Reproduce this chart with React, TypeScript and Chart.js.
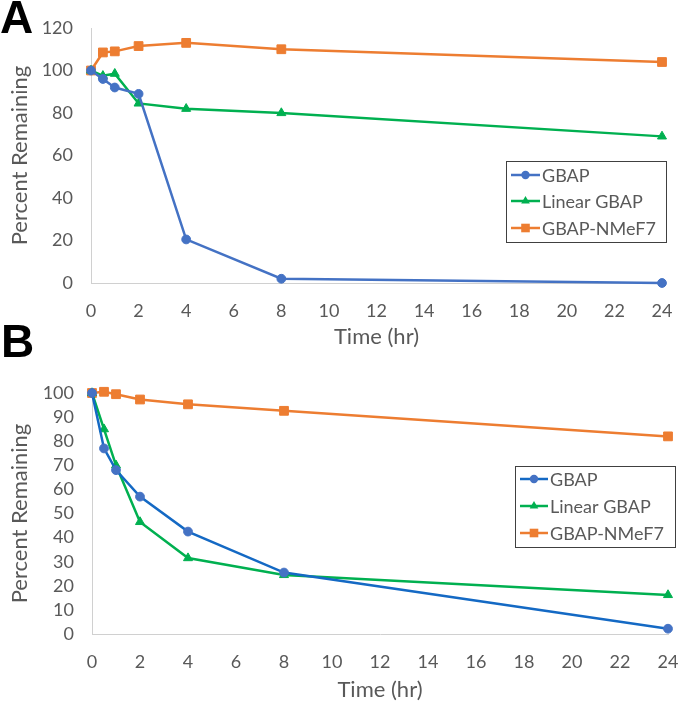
import React, { useEffect, useRef } from "react";
import { Chart, registerables } from "chart.js";

Chart.register(...registerables);

// ---------------- DATA ----------------
const timeHours = [0, 0.5, 1, 2, 4, 8, 24];
const seriesNames = ["GBAP", "Linear GBAP", "GBAP-NMeF7"];

const gbapA = [100, 96, 92, 89, 20.5, 2, 0];
const linearA = [100, 97.5, 98.5, 84.5, 82, 80, 69];
const nmefA = [100, 108.5, 109, 111.5, 113, 110, 104];

const gbapB = [100, 77, 68, 57, 42.5, 25.5, 2.2];
const linearB = [100, 85, 70, 46.5, 31.5, 24.5, 16.2];
const nmefB = [100, 100.5, 99.5, 97.3, 95.3, 92.6, 82];

const xTitle = "Time (hr)";
const yTitle = "Percent Remaining";

// ---------------- STYLE ----------------
const FONT = "Lato, 'Open Sans', sans-serif";
const TEXT = "#595959";
const AXIS = "#d0d0d0";
const BLUE = "#4472C4";
const BLUE_B = "#1469C4";
const GREEN = "#00B050";
const ORANGE = "#ED7D31";

type LegendOpts = {
  x: number; y: number; w: number; h: number;
  rows: number[]; lineX0: number; lineLen: number; textX: number;
  items: { label: string; color: string; marker: string; lineColor: string }[];
};

function drawMarker(ctx: CanvasRenderingContext2D, kind: string, x: number, y: number, color: string) {
  ctx.save();
  ctx.fillStyle = color;
  ctx.beginPath();
  if (kind === "circle") {
    ctx.arc(x, y, 4.2, 0, Math.PI * 2);
  } else if (kind === "rect") {
    ctx.rect(x - 4.3, y - 4.3, 8.6, 8.6);
  } else {
    const r = 5;
    ctx.moveTo(x, y - r);
    ctx.lineTo(x + r * 0.866, y + r * 0.5);
    ctx.lineTo(x - r * 0.866, y + r * 0.5);
    ctx.closePath();
  }
  ctx.fill();
  ctx.restore();
}

const boxLegend = {
  id: "boxLegend",
  afterDraw(chart: any, _args: any, opts: LegendOpts) {
    if (!opts || !opts.items) return;
    const ctx: CanvasRenderingContext2D = chart.ctx;
    ctx.save();
    ctx.fillStyle = "#ffffff";
    ctx.fillRect(opts.x, opts.y, opts.w, opts.h);
    ctx.strokeStyle = "#404040";
    ctx.lineWidth = 1;
    ctx.strokeRect(opts.x + 0.5, opts.y + 0.5, opts.w, opts.h);
    ctx.font = `18px ${FONT}`;
    ctx.textBaseline = "middle";
    ctx.textAlign = "left";
    opts.items.forEach((it, i) => {
      const cy = opts.y + opts.rows[i];
      const x0 = opts.x + opts.lineX0;
      ctx.strokeStyle = it.lineColor;
      ctx.lineWidth = 2.5;
      ctx.beginPath();
      ctx.moveTo(x0, cy);
      ctx.lineTo(x0 + opts.lineLen, cy);
      ctx.stroke();
      drawMarker(ctx, it.marker, x0 + opts.lineLen / 2, cy, it.color);
      ctx.fillStyle = TEXT;
      ctx.fillText(it.label, opts.x + opts.textX, cy + 1);
    });
    ctx.restore();
  },
};

function makeDataset(label: string, values: number[], lineColor: string, color: string, marker: string, radius: number) {
  return {
    label,
    data: timeHours.map((t, i) => ({ x: t, y: values[i] })),
    borderColor: lineColor,
    backgroundColor: color,
    pointBackgroundColor: color,
    pointBorderColor: color,
    pointStyle: marker,
    pointRadius: radius,
    pointBorderWidth: 1,
    borderWidth: 2.5,
    tension: 0,
    clip: false as any,
  };
}

type PanelProps = {
  width: number; height: number;
  gbap: number[]; linear: number[]; nmef: number[];
  blueLine: string;
  yMax: number; yStep: number;
  padTop: number; padRight: number; xAxisH: number; yAxisW: number;
  xTickLen: number; xTitlePadBottom: number;
  legend: Omit<LegendOpts, "items">;
};

function Panel(p: PanelProps) {
  const ref = useRef<HTMLCanvasElement | null>(null);
  useEffect(() => {
    if (!ref.current) return;
    const items = [
      { label: seriesNames[0], color: BLUE, marker: "circle", lineColor: p.blueLine },
      { label: seriesNames[1], color: GREEN, marker: "triangle", lineColor: GREEN },
      { label: seriesNames[2], color: ORANGE, marker: "rect", lineColor: ORANGE },
    ];
    const chart = new Chart(ref.current, {
      type: "line",
      data: {
        datasets: [
          makeDataset(seriesNames[0], p.gbap, p.blueLine, BLUE, "circle", 4.4),
          makeDataset(seriesNames[1], p.linear, GREEN, GREEN, "triangle", 5.2),
          makeDataset(seriesNames[2], p.nmef, ORANGE, ORANGE, "rect", 6.2),
        ],
      },
      options: {
        responsive: false,
        animation: false,
        devicePixelRatio: 1,
        layout: { padding: { left: 0, right: p.padRight, top: p.padTop, bottom: 0 } },
        plugins: {
          legend: { display: false },
          tooltip: { enabled: false },
          boxLegend: { ...p.legend, items } as any,
        } as any,
        scales: {
          x: {
            type: "linear",
            min: 0,
            max: 24,
            grid: { display: true, drawOnChartArea: false, drawTicks: true, tickLength: p.xTickLen, tickColor: "rgba(0,0,0,0)" },
            border: { display: true, color: AXIS, width: 1 },
            ticks: { stepSize: 2, autoSkip: false, color: TEXT, font: { family: FONT, size: 18 }, padding: 0, maxRotation: 0 },
            title: { display: true, text: xTitle, color: TEXT, font: { family: FONT, size: 22 }, padding: { top: 0, bottom: p.xTitlePadBottom } },
            afterFit: (s: any) => { s.height = p.xAxisH; },
          },
          y: {
            min: 0,
            max: p.yMax,
            grid: { display: true, drawOnChartArea: false, drawTicks: true, tickLength: 18, tickColor: "rgba(0,0,0,0)" },
            border: { display: true, color: AXIS, width: 1 },
            ticks: { stepSize: p.yStep, autoSkip: false, color: TEXT, font: { family: FONT, size: 18 }, padding: 0 },
            title: { display: true, text: yTitle, color: TEXT, font: { family: FONT, size: 22 }, padding: { top: 7, bottom: 0 } },
            afterFit: (s: any) => { s.width = p.yAxisW; },
          },
        },
      } as any,
      plugins: [boxLegend as any],
    });
    return () => chart.destroy();
  }, []);
  return <canvas ref={ref} width={p.width} height={p.height} style={{ display: "block", width: p.width, height: p.height }} />;
}

export default function App() {
  useEffect(() => {
    document.body.style.margin = "0";
  }, []);
  const letter: React.CSSProperties = {
    position: "absolute",
    left: 0,
    fontFamily: "'Liberation Sans', Arial, sans-serif",
    fontWeight: "bold",
    fontSize: 46,
    lineHeight: "46px",
    color: "#000",
  };
  return (
    <div style={{ position: "relative", width: 679, height: 705, background: "#fff", overflow: "hidden" }}>
      <div style={{ position: "absolute", left: 0, top: 0 }}>
        <Panel
          width={679} height={353}
          gbap={gbapA} linear={linearA} nmef={nmefA}
          blueLine={BLUE}
          yMax={120} yStep={20}
          padTop={28} padRight={17} xAxisH={70} yAxisW={91}
          xTickLen={17} xTitlePadBottom={3}
          legend={{ x: 506, y: 161, w: 160, h: 81, rows: [14, 40, 67], lineX0: 5, lineLen: 29, textX: 36 }}
        />
      </div>
      <div style={{ position: "absolute", left: 0, top: 345 }}>
        <Panel
          width={679} height={360}
          gbap={gbapB} linear={linearB} nmef={nmefB}
          blueLine={BLUE_B}
          yMax={100} yStep={10}
          padTop={48} padRight={11} xAxisH={71} yAxisW={92}
          xTickLen={17} xTitlePadBottom={2}
          legend={{ x: 515, y: 121, w: 160, h: 81, rows: [13, 40, 67], lineX0: 5, lineLen: 28, textX: 35 }}
        />
      </div>
      <div style={{ ...letter, top: -6 }}>A</div>
      <div style={{ ...letter, top: 318, left: 1 }}>B</div>
    </div>
  );
}
